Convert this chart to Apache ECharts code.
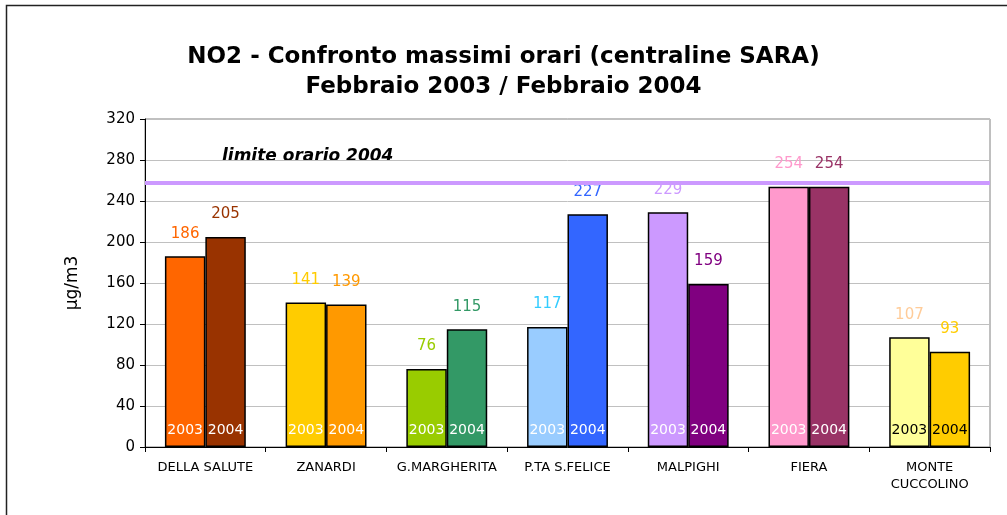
<!DOCTYPE html>
<html>
<head>
<meta charset="utf-8">
<title>NO2 - Confronto massimi orari</title>
<script src="https://cdn.jsdelivr.net/npm/echarts@6/dist/echarts.min.js"></script>
<style>
	html, body { margin: 0; padding: 0; background: #fff; }
	#chart { width: 1007px; height: 515px; }
</style>
</head>
<body>
<div id="chart"></div>
<script>
// dati
var categories = ['DELLA SALUTE', 'ZANARDI', 'G.MARGHERITA', 'P.TA S.FELICE', 'MALPIGHI', 'FIERA', 'MONTE\nCUCCOLINO']
var years = ['2003', '2004']
var values2003 = [186, 141, 76, 117, 229, 254, 107]
var values2004 = [205, 139, 115, 227, 159, 254, 93]
var limite2004 = 258
var limiteText = 'limite orario 2004'
var yMin = 0, yMax = 320, yStep = 40

// colori barre / etichette
var barColors2003 = ['#FF6600', '#FFCC00', '#99CC00', '#99CCFF', '#CC99FF', '#FF99CC', '#FFFF99']
var barColors2004 = ['#993300', '#FF9900', '#339966', '#3366FF', '#800080', '#993366', '#FFCC00']
var valueColors2003 = ['#FF6600', '#FFCC00', '#99CC00', '#33CCFF', '#CC99FF', '#FF99CC', '#FFCC99']
var valueColors2004 = ['#993300', '#FF9900', '#339966', '#3366FF', '#800080', '#993366', '#FFCC00']
var yearColors2003 = ['#fff', '#fff', '#fff', '#fff', '#fff', '#fff', '#000']
var yearColors2004 = ['#fff', '#fff', '#fff', '#fff', '#fff', '#fff', '#000']

// il grafico originale (Excel) ha testi larghi: DejaVu ci si avvicina di più
var font = '"DejaVu Sans", Arial, sans-serif'

// barra con etichetta anno in basso
function barData(values, colors, yearColors) {
	return values.map(function(v, i) {
		return {
			value: v,
			itemStyle: { color: colors[i] },
			label: { color: yearColors[i] }
		}
	})
}
// serie di appoggio (altezza 0) impilata sopra: porta il valore in cima
function topData(values, colors) {
	return values.map(function(v, i) {
		return { value: 0, real: v, label: { color: colors[i] } }
	})
}

function yearSeries(name, stack, values, colors, yearColors, extra) {
	var s = {
		name: name,
		type: 'bar',
		stack: stack,
		barCategoryGap: '33%',
		barGap: '0%',
		data: barData(values, colors, yearColors),
		itemStyle: { borderColor: '#000', borderWidth: 1.5 },
		label: {
			show: true,
			position: 'insideBottom',
			distance: 10,
			formatter: name,
			fontFamily: font,
			fontSize: 14
		}
	}
	for (var k in extra) s[k] = extra[k]
	return s
}

function valueSeries(stack, values, colors) {
	return {
		type: 'bar',
		stack: stack,
		silent: true,
		data: topData(values, colors),
		itemStyle: { color: 'rgba(0,0,0,0)', borderWidth: 0 },
		label: {
			show: true,
			position: 'top',
			distance: 15,
			fontFamily: font,
			fontSize: 15,
			formatter: function(p) { return p.data.real }
		}
	}
}

var myChart = echarts.init(document.getElementById('chart'), null, { renderer: 'canvas' })

var option = {
	backgroundColor: '#fff',
	animation: false,
	title: {
		text: 'NO2 - Confronto massimi orari (centraline SARA)\nFebbraio 2003 / Febbraio 2004',
		left: 'center',
		top: 37,
		textStyle: {
			fontFamily: font,
			fontSize: 23,
			fontWeight: 'bold',
			lineHeight: 30,
			color: '#000'
		}
	},
	grid: {
		left: 145,
		right: 17,
		top: 119,
		bottom: 68,
		show: true,
		borderColor: '#808080',
		borderWidth: 1,
		backgroundColor: '#fff'
	},
	xAxis: {
		type: 'category',
		data: categories,
		axisLine: { lineStyle: { color: '#000', width: 1 } },
		axisTick: { show: true, length: 5, lineStyle: { color: '#000' } },
		axisLabel: {
			interval: 0,
			margin: 12,
			fontFamily: font,
			fontSize: 13,
			lineHeight: 17,
			color: '#000'
		}
	},
	yAxis: {
		type: 'value',
		min: yMin,
		max: yMax,
		interval: yStep,
		name: 'µg/m3',
		nameLocation: 'middle',
		nameRotate: 90,
		nameGap: 64,
		nameTextStyle: { fontFamily: font, fontSize: 17, color: '#000' },
		axisLine: { show: true, lineStyle: { color: '#000', width: 1 } },
		axisTick: { show: true, length: 5, lineStyle: { color: '#000' } },
		axisLabel: { margin: 10, fontFamily: font, fontSize: 15, color: '#000' },
		splitLine: { lineStyle: { color: '#C0C0C0', width: 1 } }
	},
	series: [
		yearSeries(years[0], 'a', values2003, barColors2003, yearColors2003, {
			markLine: {
				silent: true,
				symbol: 'none',
				z: 5,
				label: { show: false },
				lineStyle: { color: '#CC99FF', width: 4, type: 'solid' },
				data: [{ yAxis: limite2004 }]
			}
		}),
		yearSeries(years[1], 'b', values2004, barColors2004, yearColors2004, {}),
		valueSeries('a', values2003, valueColors2003),
		valueSeries('b', values2004, valueColors2004)
	],
	graphic: [
		// cornice esterna
		{
			type: 'rect',
			silent: true,
			shape: { x: 6.5, y: 5.5, width: 1020, height: 530 },
			style: { fill: null, stroke: '#222', lineWidth: 1.5 }
		},
		{
			type: 'text',
			silent: true,
			x: 222,
			y: 157,
			style: {
				text: limiteText,
				fontFamily: font,
				fontSize: 17,
				fontWeight: 'bold',
				fontStyle: 'italic',
				fill: '#000',
				verticalAlign: 'middle'
			}
		}
	]
}

myChart.setOption(option)
</script>
</body>
</html>
